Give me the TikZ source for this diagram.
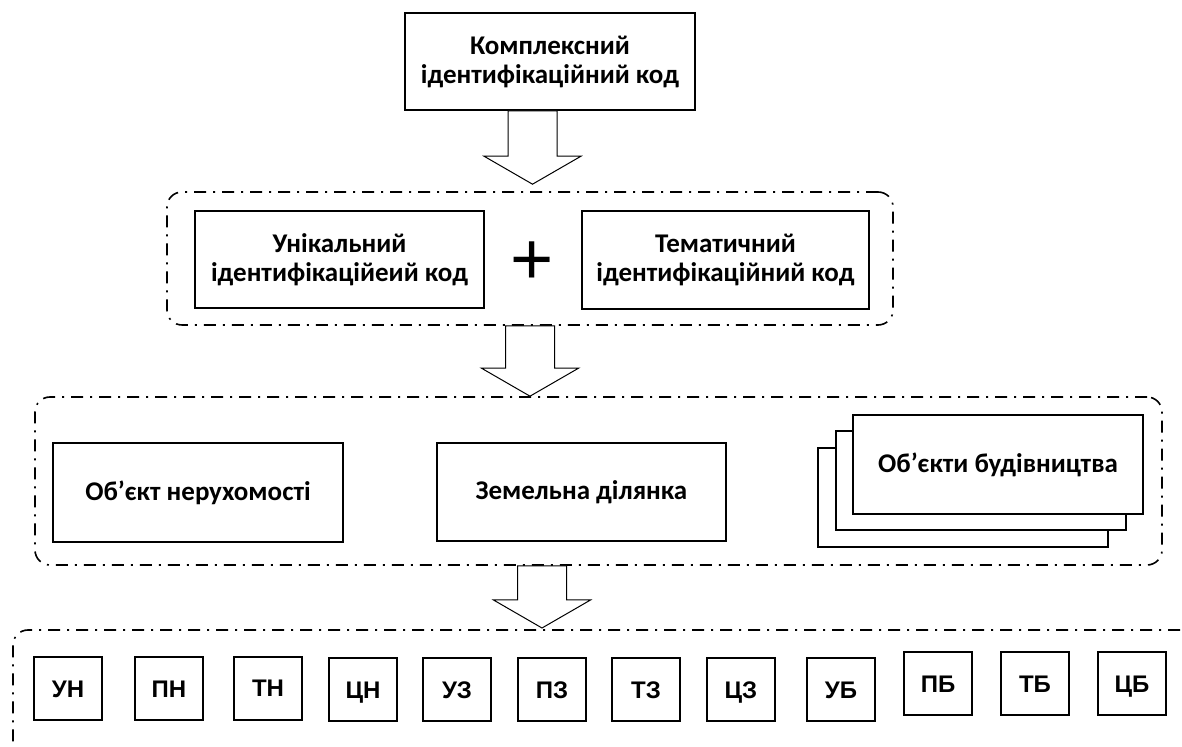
\documentclass[tikz,border=0pt]{standalone}
\usepackage{fontspec}
\setmainfont{Carlito}
\newfontfamily\arialFont{Liberation Sans}
\usepackage{tikz}
\usetikzlibrary{calc,shadows}

\newcommand{\blockArrow}[2]{\draw[arrowLine] ($(#1)+(-24.5,0)$) |- ($(#2)+(-48.5,-28)$) -- (#2) -- ($(#2)+(48.5,-28)$) -| ($(#1)+(24.5,0)$) -- cycle;}

\begin{document}
\begin{tikzpicture}[x=0.5pt,y=-0.5pt,every node/.style={font=\bfseries\fontsize{13.5}{14.5}\selectfont,align=center,inner sep=0pt},
  mainBox/.style={draw,line width=1pt,fill=white},
  groupBox/.style={draw,line width=0.8pt,rounded corners=7.5pt,dash pattern=on 6pt off 3.5pt on 1pt off 3.5pt},
  smallBox/.style={mainBox,minimum width=34pt,minimum height=31.5pt,text height=8.6pt,text depth=0pt,font=\arialFont\bfseries\fontsize{12}{14}\selectfont},
  arrowLine/.style={draw,line width=0.5pt,fill=white}]
  \useasboundingbox (0,0) rectangle (1182,747);
  \clip (0,0) rectangle (1182,747);
  \node[mainBox,minimum width=145pt,minimum height=48.5pt] (code) at (550,61.5) {Комплексний\\ідентифікаційний код};
  \node[groupBox,minimum width=363pt,minimum height=66.5pt] (grp1) at (530,258.5) {};
  \node[mainBox,minimum width=144.5pt,minimum height=48.5pt] (uniq) at (339.5,259.5) {Унікальний\\ідентифікаційеий код};
  \node[font=\arialFont\fontsize{37}{40}\selectfont] (plus) at (532,263) {+};
  \node[mainBox,minimum width=143.5pt,minimum height=49pt] (them) at (725.5,260) {Тематичний\\ідентифікаційний код};
  \coordinate (tip1) at ($(grp1.north)+(2.5,-7)$);
  \blockArrow{code.south -| tip1}{tip1}
  \node[groupBox,minimum width=563.5pt,minimum height=84pt] (grp2) at (598.5,481) {};
  \node[mainBox,minimum width=145pt,minimum height=49.5pt] (obj) at (198,492.5) {Об’єкт нерухомості};
  \node[mainBox,minimum width=144.5pt,minimum height=49pt] (land) at (581.5,492) {Земельна ділянка};
  \node[mainBox,minimum width=145pt,minimum height=49.5pt,double copy shadow={shadow xshift=-8.75pt,shadow yshift=-8.25pt}] (build) at (998,464.5) {Об’єкти будівництва};
  \blockArrow{grp1.south}{grp1.south |- grp2.north}
  \node[groupBox,minimum width=591pt,minimum height=63.5pt] (grp3) at (604,693.5) {};
  \coordinate (tip3) at (542,628);
  \blockArrow{grp2.south -| tip3}{tip3}
  \foreach \x/\y/\name/\label in {68/688.5/un/УН,169/688.5/pn/ПН,268/688/tn/ТН,363/689.5/cn/ЦН,457/689.5/uz/УЗ,552/689.5/pz/ПЗ,646/689.5/tz/ТЗ,741/689.5/cz/ЦЗ,841/689.5/ub/УБ,938/683.5/pb/ПБ,1035/683.5/tb/ТБ,1132/683.5/cb/ЦБ}{\node[smallBox] (\name) at (\x,\y) {\label};}
\end{tikzpicture}
\end{document}
